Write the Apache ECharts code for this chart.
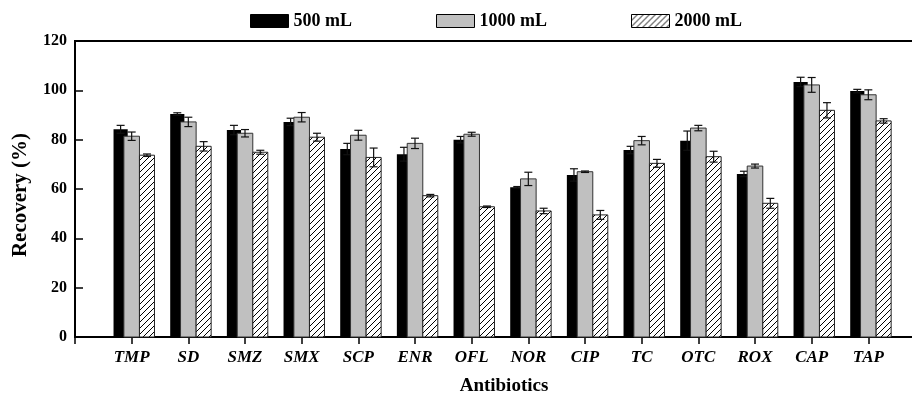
<!DOCTYPE html>
<html>
<head>
<meta charset="utf-8">
<script src="https://cdn.jsdelivr.net/npm/echarts@6/dist/echarts.min.js"></script>
<style>html,body{margin:0;padding:0;background:#fff;}#c{width:912px;height:402px;}</style>
</head>
<body>
<div id="c"></div>
<script>
var categories = ['TMP','SD','SMZ','SMX','SCP','ENR','OFL','NOR','CIP','TC','OTC','ROX','CAP','TAP'];
var seriesNames = ['500 mL','1000 mL','2000 mL'];
var v500  = [84.2, 90.4, 83.9, 87.2, 76.2, 74.1, 80.0, 60.7, 65.7, 75.8, 79.6, 66.1, 103.4, 99.7];
var e500  = [1.6, 0.5, 1.9, 1.5, 2.3, 2.8, 1.3, 0.3, 2.5, 1.5, 3.9, 1.1, 1.9, 0.7];
var v1000 = [81.4, 87.2, 82.6, 89.1, 81.8, 78.5, 82.2, 64.1, 67.0, 79.6, 84.7, 69.3, 102.2, 98.2];
var e1000 = [1.7, 1.9, 1.5, 1.9, 2.0, 2.1, 0.8, 2.7, 0.3, 1.7, 1.1, 0.8, 3.0, 2.0];
var v2000 = [73.7, 77.3, 74.9, 81.0, 72.8, 57.3, 52.8, 51.1, 49.5, 70.4, 73.1, 54.2, 91.9, 87.6];
var e2000 = [0.5, 1.9, 0.8, 1.6, 3.8, 0.5, 0.3, 1.1, 1.8, 1.6, 2.2, 2.0, 3.1, 0.9];
var yTicks = [0, 20, 40, 60, 80, 100, 120];

var FONT = "'Liberation Serif','Times New Roman',serif";

function hatch() {
  var c = document.createElement('canvas');
  c.width = 6; c.height = 6;
  var g = c.getContext('2d');
  g.fillStyle = '#fff'; g.fillRect(0, 0, 6, 6);
  g.strokeStyle = '#000'; g.lineWidth = 1;
  g.beginPath();
  g.moveTo(-1, 7); g.lineTo(7, -1);
  g.moveTo(-4, 4); g.lineTo(4, -4);
  g.moveTo(2, 10); g.lineTo(10, 2);
  g.stroke();
  return {image: c, repeat: 'repeat'};
}
var hatchFill = hatch();

function toData(vals, errs) {
  return vals.map(function (v, i) { return [i + 1, v, errs[i]]; });
}

function makeSeries(name, vals, errs, offFrac, wFrac, fill, stroke, lw, z) {
  return {
    name: name,
    type: 'custom',
    z: z,
    itemStyle: {color: fill, borderColor: stroke, borderWidth: lw},
    encode: {x: 0, y: 1},
    data: toData(vals, errs),
    renderItem: function (params, api) {
      var x = api.value(0), v = api.value(1), e = api.value(2);
      var base = api.coord([x, 0]);
      var top = api.coord([x, v]);
      var unit = api.size([1, 0])[0];
      var w = unit * wFrac;
      var cx = base[0] + unit * offFrac;
      var hi = api.coord([x, v + e])[1];
      var lo = api.coord([x, v - e])[1];
      var cap = 4;
      var eStyle = {stroke: '#111', lineWidth: 1.2, fill: null};
      return {
        type: 'group',
        children: [
          {type: 'rect', shape: {x: cx - w / 2, y: top[1], width: w, height: base[1] - top[1]},
           style: {fill: fill, stroke: stroke, lineWidth: lw}},
          {type: 'line', shape: {x1: cx, y1: hi, x2: cx, y2: lo}, style: eStyle},
          {type: 'line', shape: {x1: cx - cap, y1: hi, x2: cx + cap, y2: hi}, style: eStyle},
          {type: 'line', shape: {x1: cx - cap, y1: lo, x2: cx + cap, y2: lo}, style: eStyle}
        ]
      };
    }
  };
}

var chart = echarts.init(document.getElementById('c'), null, {renderer: 'canvas'});
chart.setOption({
  animation: false,
  backgroundColor: '#fff',
  textStyle: {fontFamily: FONT, color: '#000'},
  legend: {
    left: 245, top: 7,
    itemWidth: 38, itemHeight: 13, itemGap: 84,
    textStyle: {fontFamily: FONT, fontWeight: 'bold', fontSize: 18, color: '#000'},
    data: [
      {name: seriesNames[0], icon: 'rect', itemStyle: {color: '#000', borderColor: '#000', borderWidth: 1}},
      {name: seriesNames[1], icon: 'rect', itemStyle: {color: '#c0c0c0', borderColor: '#000', borderWidth: 1}},
      {name: seriesNames[2], icon: 'rect', itemStyle: {color: hatchFill, borderColor: '#000', borderWidth: 1}}
    ]
  },
  grid: {left: 75, width: 850, top: 41, height: 296, show: true, borderColor: '#000', borderWidth: 2,
         containLabel: false, outerBoundsMode: 'none'},
  xAxis: {
    type: 'value', min: 0, max: 15, interval: 1,
    name: 'Antibiotics', nameLocation: 'middle', nameGap: 40,
    nameTextStyle: {fontFamily: FONT, fontWeight: 'bold', fontSize: 19, color: '#000', padding: [0, 0, 0, 8]},
    axisLine: {show: true, lineStyle: {color: '#000', width: 2}},
    axisTick: {show: true, inside: false, length: 7, lineStyle: {color: '#000', width: 1.5}},
    splitLine: {show: false},
    axisLabel: {
      margin: 12, fontFamily: FONT, fontWeight: 'bold', fontStyle: 'italic', fontSize: 17, color: '#000',
      formatter: function (v) { return categories[v - 1] || ''; }
    }
  },
  yAxis: {
    type: 'value', min: yTicks[0], max: yTicks[yTicks.length - 1], interval: 20,
    name: 'Recovery (%)', nameLocation: 'middle', nameGap: 44,
    nameTextStyle: {fontFamily: FONT, fontWeight: 'bold', fontSize: 21, color: '#000', padding: [0, 12, 0, 0]},
    axisLine: {show: true, lineStyle: {color: '#000', width: 2}},
    axisTick: {show: true, inside: true, length: 8, lineStyle: {color: '#000', width: 1.5}},
    splitLine: {show: false},
    axisLabel: {margin: 8, fontFamily: FONT, fontWeight: 'bold', fontSize: 16, color: '#000'}
  },
  series: [
    makeSeries(seriesNames[0], v500, e500, -0.195, 0.25, '#000', '#000', 0, 2),
    makeSeries(seriesNames[1], v1000, e1000, 0, 0.275, '#c0c0c0', '#333', 1, 3),
    makeSeries(seriesNames[2], v2000, e2000, 0.27, 0.265, hatchFill, '#222', 1, 4)
  ]
});
</script>
</body>
</html>
